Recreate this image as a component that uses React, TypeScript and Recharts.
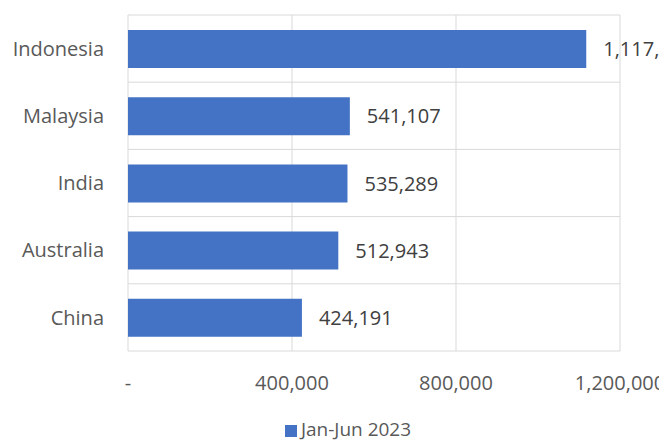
import React from 'react';
import {Bar, BarChart, CartesianGrid, LabelList, Legend, XAxis, YAxis} from 'recharts';

const countries = ['Indonesia', 'Malaysia', 'India', 'Australia', 'China'];
const arrivals = [1117700, 541107, 535289, 512943, 424191];
const xTicks = [0, 400000, 800000, 1200000];

const data = countries.map((country, i) => ({country, value: arrivals[i]}));

const font = '"Open Sans", sans-serif';
const fmt = (v: number) => (v === 0 ? '-' : v.toLocaleString('en-US'));

export default function App() {
    return (
        <BarChart
            width={659}
            height={433}
            data={data}
            layout="vertical"
            margin={{top: 7, right: 47, left: 0, bottom: 0}}
            style={{fontFamily: font}}
        >
            <CartesianGrid
                stroke="#d9d9d9"
                horizontalCoordinatesGenerator={({offset}: any) =>
                    countries.map((_, i) => offset.top + (i * offset.height) / countries.length)
                        .concat(offset.top + offset.height)
                }
            />
            <XAxis
                type="number"
                domain={[0, 1200000]}
                ticks={xTicks}
                tickFormatter={fmt}
                axisLine={false}
                tickLine={false}
                tickSize={6}
                tickMargin={19}
                height={64}
                tick={{fill: '#595959', fontSize: 20, fontFamily: font}}
            />
            <YAxis
                type="category"
                dataKey="country"
                width={120}
                axisLine={false}
                tickLine={false}
                tickSize={6}
                tickMargin={18}
                tick={{fill: '#595959', fontSize: 20, fontFamily: font}}
            />
            <Legend
                verticalAlign="bottom"
                iconType="square"
                iconSize={12}
                wrapperStyle={{left: 39, bottom: -1, fontSize: 19, fontFamily: font}}
                formatter={(v: string) => <span style={{color: '#595959'}}>{v}</span>}
            />
            <Bar dataKey="value" name="Jan-Jun 2023" fill="#4472c4" barSize={38} isAnimationActive={false}>
                <LabelList
                    dataKey="value"
                    position="right"
                    offset={17}
                    formatter={(v: number) => v.toLocaleString('en-US')}
                    style={{fill: '#404040', fontSize: 20, fontFamily: font}}
                />
            </Bar>
        </BarChart>
    );
}
